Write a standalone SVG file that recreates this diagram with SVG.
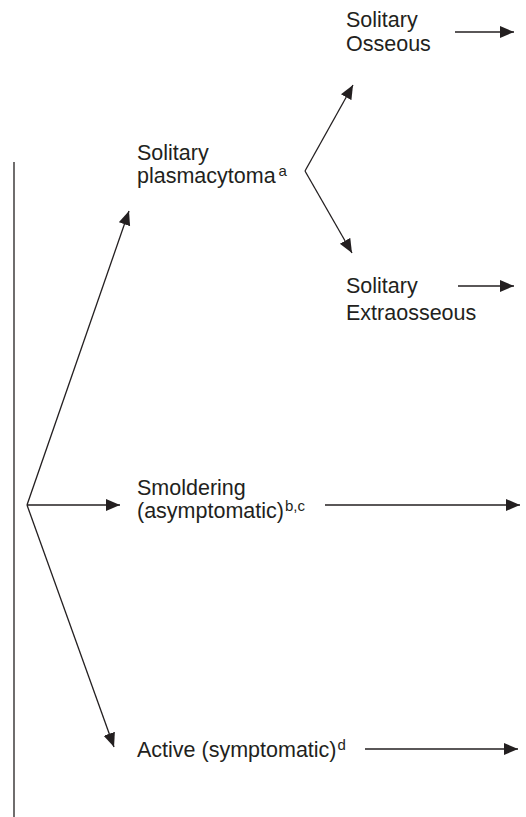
<svg xmlns="http://www.w3.org/2000/svg" width="526" height="817" viewBox="0 0 526 817">
<style>
  .t { font-family: "Liberation Sans", Arial, sans-serif; font-size: 21.5px; fill: #231f20; }
  .sup { font-size: 15px; }
  .c { stroke: #231f20; stroke-width: 1.3; fill: none; }
</style>
<defs>
  <marker id="ah" markerUnits="userSpaceOnUse" markerWidth="15" markerHeight="13" refX="14" refY="6" orient="auto">
    <path d="M0,0 L14,6 L0,12 z" fill="#231f20"/>
  </marker>
</defs>
<rect width="526" height="817" fill="#ffffff"/>
<g id="connectors">
  <line class="c" x1="14" y1="162" x2="14" y2="817"/>
  <line class="c" x1="27" y1="505" x2="129" y2="211" marker-end="url(#ah)"/>
  <line class="c" x1="27" y1="505" x2="114" y2="747" marker-end="url(#ah)"/>
  <line class="c" x1="27" y1="505" x2="120" y2="505" marker-end="url(#ah)"/>
  <line class="c" x1="305" y1="171" x2="353" y2="85" marker-end="url(#ah)"/>
  <line class="c" x1="305" y1="171" x2="352" y2="253" marker-end="url(#ah)"/>
  <line class="c" x1="455" y1="32" x2="514" y2="32" marker-end="url(#ah)"/>
  <line class="c" x1="458" y1="286" x2="514" y2="286" marker-end="url(#ah)"/>
  <line class="c" x1="325" y1="505" x2="520" y2="505" marker-end="url(#ah)"/>
  <line class="c" x1="365" y1="749" x2="518" y2="749" marker-end="url(#ah)"/>
</g>
<g id="node-solitary-plasmacytoma">
  <text class="t" x="137" y="160">Solitary</text>
  <text class="t" x="137" y="183">plasmacytoma<tspan class="sup" dx="3" dy="-7">a</tspan></text>
</g>
<g id="node-solitary-osseous">
  <text class="t" x="346" y="27">Solitary</text>
  <text class="t" x="346" y="51">Osseous</text>
</g>
<g id="node-solitary-extraosseous">
  <text class="t" x="346" y="293">Solitary</text>
  <text class="t" x="346" y="320">Extraosseous</text>
</g>
<g id="node-smoldering">
  <text class="t" x="137" y="495">Smoldering</text>
  <text class="t" x="137" y="518">(asymptomatic)<tspan class="sup" dx="1" dy="-7">b,c</tspan></text>
</g>
<g id="node-active">
  <text class="t" x="137" y="757">Active (symptomatic)<tspan class="sup" dx="1" dy="-7">d</tspan></text>
</g>
</svg>
